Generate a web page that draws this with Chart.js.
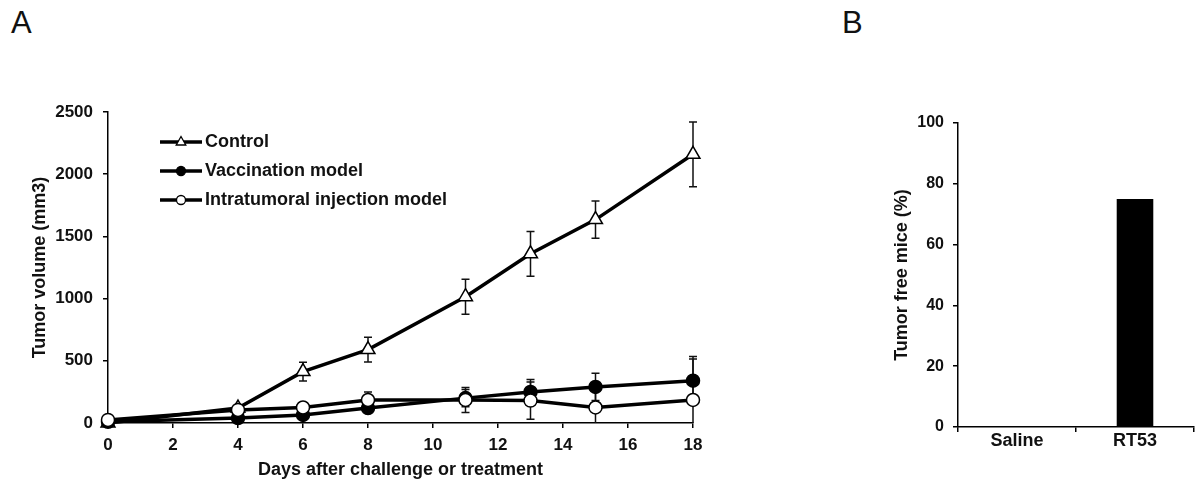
<!DOCTYPE html>
<html>
<head>
<meta charset="utf-8">
<script src="https://cdn.jsdelivr.net/npm/chart.js@4.4.1/dist/chart.umd.min.js"></script>
<style>
  body { margin: 0; background: #fff; width: 1197px; height: 483px; overflow: hidden; position: relative; }
  canvas { position: absolute; top: 0; }
  .panel { position: absolute; top: 7px; font: 31px "Liberation Sans", Arial, sans-serif; line-height: 1; color: #111; }
</style>
</head>
<body>
<div class="panel" style="left: 11px;">A</div>
<div class="panel" style="left: 842px;">B</div>
<canvas id="growth" width="730" height="483" style="left: 0;"></canvas>
<canvas id="free" width="357" height="483" style="left: 840px;"></canvas>
<script>
// panel A: tumour growth, mean +/- error
const days = [0, 4, 6, 8, 11, 13, 15, 18];
const controlMean = [0, 120, 413, 590, 1015, 1360, 1635, 2160];
const controlErr = [0, 20, 75, 100, 140, 180, 150, 260];
const vaccMean = [10, 40, 65, 120, 200, 250, 290, 340];
const vaccErr = [0, 15, 20, 40, 70, 100, 110, 195];
const itMean = [25, 105, 125, 185, 185, 180, 125, 185];
const itErr = [0, 15, 25, 65, 100, 150, 140, 330];

// panel B: tumour free mice
const groups = ['Saline', 'RT53'];
const tumorFree = [0, 75];

Chart.defaults.font.family = '"Liberation Sans", Arial, sans-serif';
Chart.defaults.color = '#111';

const axisLine = {color: '#000', width: 1.5};
const tickGrid = {drawOnChartArea: false, color: '#000', lineWidth: 1.5, tickLength: 5};
const plain = v => String(v);

const series = (label, mean, err, style, fill, order) => ({
    label: label,
    data: days.map((d, i) => ({x: d, y: mean[i]})),
    errors: err,
    borderColor: '#000',
    borderWidth: 3.5,
    pointStyle: style,
    pointRadius: style === 'triangle' ? 8 : 6.5,
    pointBackgroundColor: fill,
    pointBorderColor: '#000',
    pointBorderWidth: 1.5,
    clip: false,
    order: order
});

const errorBars = {
    id: 'errorBars',
    beforeDatasetsDraw(chart) {
        const {ctx, chartArea, scales: {x, y}} = chart;
        ctx.save();
        ctx.beginPath();
        ctx.rect(chartArea.left - 10, 0, chartArea.width + 20, chartArea.bottom);
        ctx.clip();
        ctx.strokeStyle = '#111';
        ctx.lineWidth = 1.5;
        chart.data.datasets.forEach(ds => {
            ds.errors.forEach((e, i) => {
                if (!e) return;
                const px = x.getPixelForValue(ds.data[i].x);
                const top = y.getPixelForValue(ds.data[i].y + e);
                const bot = y.getPixelForValue(ds.data[i].y - e);
                ctx.beginPath();
                ctx.moveTo(px, top); ctx.lineTo(px, bot);
                ctx.moveTo(px - 4, top); ctx.lineTo(px + 4, top);
                ctx.moveTo(px - 4, bot); ctx.lineTo(px + 4, bot);
                ctx.stroke();
            });
        });
        ctx.restore();
    }
};

// legend with a line sample and the marker in its middle
const lineLegend = {
    id: 'lineLegend',
    afterDraw(chart) {
        const ctx = chart.ctx;
        const x0 = 160, x1 = 202, rows = [142, 171, 200];
        chart.data.datasets.forEach((ds, i) => {
            const cy = rows[i], cx = (x0 + x1) / 2;
            ctx.save();
            ctx.strokeStyle = '#000';
            ctx.lineWidth = 3.5;
            ctx.beginPath(); ctx.moveTo(x0, cy); ctx.lineTo(x1, cy); ctx.stroke();
            ctx.fillStyle = ds.pointBackgroundColor;
            ctx.lineWidth = 1.3;
            ctx.beginPath();
            if (ds.pointStyle === 'triangle') {
                ctx.moveTo(cx, cy - 5.5);
                ctx.lineTo(cx + 4.8, cy + 3);
                ctx.lineTo(cx - 4.8, cy + 3);
                ctx.closePath();
            } else {
                ctx.arc(cx, cy, 4.5, 0, Math.PI * 2);
            }
            ctx.fill(); ctx.stroke();
            ctx.fillStyle = '#111';
            ctx.font = 'bold 18px "Liberation Sans", Arial, sans-serif';
            ctx.textBaseline = 'middle';
            ctx.fillText(ds.label, 205, cy);
            ctx.restore();
        });
    }
};

new Chart(document.getElementById('growth'), {
    type: 'line',
    data: {
        datasets: [
            series('Control', controlMean, controlErr, 'triangle', '#fff', 2),
            series('Vaccination model', vaccMean, vaccErr, 'circle', '#000', 1),
            series('Intratumoral injection model', itMean, itErr, 'circle', '#fff', 0)
        ]
    },
    options: {
        responsive: false,
        animation: false,
        layout: {padding: {left: 0, top: 112, right: 37, bottom: 0}},
        plugins: {legend: {display: false}, tooltip: {enabled: false}},
        scales: {
            x: {
                type: 'linear', min: 0, max: 18,
                ticks: {stepSize: 2, color: '#111', font: {size: 17, weight: 'bold'}, padding: 7, callback: plain},
                grid: tickGrid,
                border: axisLine,
                title: {display: true, text: 'Days after challenge or treatment', color: '#111',
                    font: {size: 18, weight: 'bold'}, padding: {top: 0, bottom: 2}},
                afterFit: s => { s.height = 60; }
            },
            y: {
                min: 0, max: 2500,
                ticks: {stepSize: 500, color: '#111', font: {size: 17, weight: 'bold'}, padding: 10, callback: plain},
                grid: tickGrid,
                border: axisLine,
                title: {display: true, text: 'Tumor volume (mm3)', color: '#111',
                    font: {size: 18, weight: 'bold'}, padding: {top: 29, bottom: 0}},
                afterFit: s => { s.width = 108; }
            }
        }
    },
    plugins: [errorBars, lineLegend]
});

new Chart(document.getElementById('free'), {
    type: 'bar',
    data: {
        labels: groups,
        datasets: [{data: tumorFree, backgroundColor: '#000', categoryPercentage: 1, barPercentage: 0.31}]
    },
    options: {
        responsive: false,
        animation: false,
        layout: {padding: {left: 0, top: 123, right: 3, bottom: 0}},
        plugins: {legend: {display: false}, tooltip: {enabled: false}},
        scales: {
            x: {
                ticks: {color: '#111', font: {size: 18, weight: 'bold'}, padding: -2},
                grid: Object.assign({}, tickGrid, {offset: true}),
                border: axisLine,
                afterFit: s => { s.height = 56; }
            },
            y: {
                min: 0, max: 100,
                ticks: {stepSize: 20, color: '#111', font: {size: 16, weight: 'bold'}, padding: 9, callback: plain},
                grid: tickGrid,
                border: axisLine,
                title: {display: true, text: 'Tumor free mice (%)', color: '#111',
                    font: {size: 18, weight: 'bold'}, padding: {top: 51, bottom: 0}},
                afterFit: s => { s.width = 118; }
            }
        }
    }
});
</script>
</body>
</html>
